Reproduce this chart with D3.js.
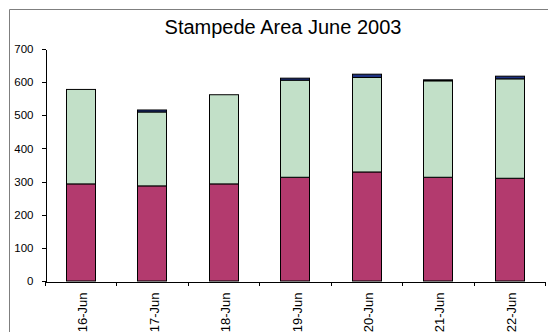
<!DOCTYPE html>
<html>
<head>
<meta charset="utf-8">
<script src="https://cdn.jsdelivr.net/npm/d3@7"></script>
<style>
  body { margin: 0; background: #fff; }
  svg { display: block; font-family: Arial, "Liberation Sans", sans-serif; }
  .axis path, .axis line { stroke: #000; shape-rendering: crispEdges; }
  .axis text { fill: #000; }
</style>
</head>
<body>
<div id="chart"></div>
<script>
// days on the x axis
var days = ["16-Jun", "17-Jun", "18-Jun", "19-Jun", "20-Jun", "21-Jun", "22-Jun"];
// stacked series, bottom to top
var pinkValues  = [293, 287, 293, 313, 329, 313, 310];
var greenValues = [285, 223, 269, 293, 285, 291, 300];
var blueValues  = [0, 6, 0, 6, 10, 3, 8];
var yTicks = [0, 100, 200, 300, 400, 500, 600, 700];
var seriesColors = ["#B33A6E", "#C2E0C8", "#1E3282"];

var width = 548, height = 332;
var margin = {top: 49, right: 3, bottom: 51, left: 45};
var graphWidth = width - margin.left - margin.right;
var graphHeight = height - margin.top - margin.bottom;

var svg = d3.select("#chart")
  .append("svg")
  .attr("width", width)
  .attr("height", height);

// outer chart frame (only top and left visible)
svg.append("path")
  .attr("d", "M9.5,332 L9.5,9.5 L548,9.5")
  .attr("fill", "none")
  .attr("stroke", "#7f7f7f")
  .attr("stroke-width", 1);

svg.append("text")
  .attr("x", 283)
  .attr("y", 34)
  .attr("text-anchor", "middle")
  .style("font-size", "20px")
  .text("Stampede Area June 2003");

var g = svg.append("g")
  .attr("transform", "translate(" + margin.left + "," + margin.top + ")");

var x = d3.scaleBand()
  .domain(days)
  .range([0, graphWidth])
  .paddingInner(0.59)
  .paddingOuter(0.295);

var y = d3.scaleLinear()
  .domain([0, 700])
  .range([graphHeight, 0]);

var rows = days.map(function(d, i) {
  return {day: d, pink: pinkValues[i], green: greenValues[i], blue: blueValues[i]};
});
var stack = d3.stack().keys(["pink", "green", "blue"]);
var layers = stack(rows);

layers.forEach(function(layer, k) {
  g.selectAll(".bar" + k)
    .data(layer.filter(function(d) { return d[1] - d[0] > 0; }))
    .enter()
    .append("rect")
    .attr("class", "bar" + k)
    .attr("x", function(d) { return Math.round(x(d.data.day)) + 0.5; })
    .attr("width", Math.round(x.bandwidth()))
    .attr("y", function(d) { return y(d[1]); })
    .attr("height", function(d) { return y(d[0]) - y(d[1]); })
    .attr("fill", seriesColors[k])
    .attr("stroke", "#000")
    .attr("stroke-width", 1);
});

// y axis
g.append("g")
  .attr("class", "y axis")
  .attr("transform", "translate(0.5,0)")
  .call(d3.axisLeft(y)
    .tickValues(yTicks)
    .tickSizeInner(4)
    .tickSizeOuter(0)
    .tickPadding(8))
  .selectAll("text")
  .style("font-size", "11.5px");

// x axis, labels without ticks
var xAxis = g.append("g")
  .attr("class", "x axis")
  .attr("transform", "translate(0," + (graphHeight + 0.5) + ")")
  .call(d3.axisBottom(x).tickSize(0).tickSizeOuter(0));

xAxis.selectAll("text")
  .style("font-size", "13px")
  .attr("transform", "rotate(-90)")
  .attr("text-anchor", "end")
  .attr("x", -11)
  .attr("y", 0)
  .attr("dy", "0.35em")
  .attr("dx", 0);

xAxis.selectAll(".tick").attr("transform", function(d) {
  return "translate(" + (x(d) + x.bandwidth() / 2 + 2) + ",0)";
});

// ticks at category boundaries
var step = x.step();
var edges = days.map(function(d) { return x(d) - (step - x.bandwidth()) / 2; });
edges.push(graphWidth);
xAxis.selectAll(".edge")
  .data(edges)
  .enter()
  .append("line")
  .attr("class", "edge")
  .attr("x1", function(d) { return Math.round(d) + 0.5; })
  .attr("x2", function(d) { return Math.round(d) + 0.5; })
  .attr("y1", 0)
  .attr("y2", 4)
  .attr("stroke", "#000");
</script>
</body>
</html>
